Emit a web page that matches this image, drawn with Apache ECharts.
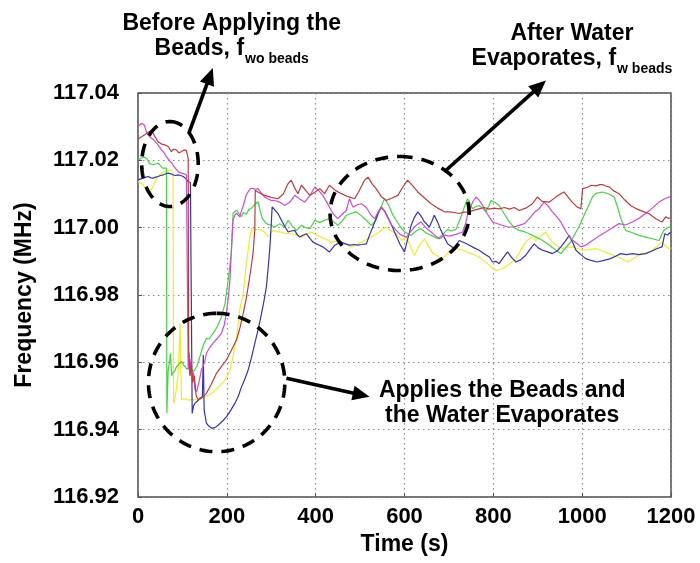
<!DOCTYPE html>
<html>
<head>
<meta charset="utf-8">
<script src="https://cdn.jsdelivr.net/npm/echarts@6/dist/echarts.min.js"></script>
<style>
  html, body { margin: 0; padding: 0; background: #ffffff; }
  #chart { width: 700px; height: 563px; }
</style>
</head>
<body>
<div id="chart"></div>
<script>
// Resonant frequency of five sensors over time: [time (s), frequency (MHz)]
const redTrace = [
  [0,117.0263],[8,117.0270],[15,117.0276],[24,117.0284],[31,117.0289],[38,117.0271],[45,117.0255],[52,117.0249],[60,117.0246],[68,117.0241],[75,117.0226],[80,117.0233],[86,117.0231],[92,117.0222],[98,117.0226],[104,117.0231],[109,117.0229],[113,117.0206],
  [114,116.9636],[117,116.9560],[120,116.9600],[123,116.9540],[127,116.9560],[131,116.9500],[136,116.9488],[144,116.9495],[154,116.9508],[165,116.9535],[177,116.9568],[188,116.9588],[199,116.9607],[210,116.9635],[222,116.9667],[230,116.9705],[237,116.9746],[243,116.9785],[248,116.9825],[254,116.9875],[259,116.9924],[263,116.9994],[264,117.0111],
  [270,117.0106],[278,117.0100],[285,117.0096],[300,117.0090],[315,117.0086],[327,117.0100],[338,117.0131],[345,117.0141],[352,117.0120],[360,117.0101],[368,117.0126],[378,117.0110],[387,117.0096],[398,117.0105],[409,117.0116],[420,117.0101],[431,117.0126],[445,117.0110],[458,117.0101],[473,117.0092],[488,117.0086],[500,117.0115],[510,117.0141],[518,117.0150],[527,117.0130],[536,117.0116],[548,117.0092],[559,117.0081],[572,117.0088],[585,117.0096],[596,117.0120],[607,117.0141],[618,117.0125],[630,117.0106],[645,117.0088],[660,117.0071],[675,117.0058],[690,117.0047],[701,117.0047],[712,117.0045],[723,117.0042],[735,117.0046],[746,117.0047],[757,117.0052],[768,117.0056],[780,117.0060],[790,117.0055],[802,117.0058],[813,117.0056],[825,117.0060],[836,117.0055],[847,117.0060],[858,117.0051],[873,117.0058],[888,117.0071],[899,117.0091],[910,117.0078],[926,117.0076],[940,117.0090],[951,117.0100],[959,117.0106],[967,117.0093],[978,117.0075],[989,117.0061],[997,117.0056],[1001,117.0116],[1012,117.0120],[1020,117.0126],[1031,117.0124],[1040,117.0128],[1046,117.0128],[1054,117.0123],[1061,117.0121],[1070,117.0110],[1083,117.0101],[1096,117.0082],[1109,117.0066],[1124,117.0055],[1139,117.0047],[1150,117.0042],[1165,117.0027],[1175,117.0020],[1180,117.0017],[1188,117.0032],[1195,117.0027],[1200,117.0030]
];

const magentaTrace = [
  [0,117.0300],[8,117.0310],[14,117.0305],[20,117.0281],[26,117.0270],[31,117.0265],[37,117.0258],[42,117.0251],[48,117.0240],[53,117.0231],[59,117.0222],[64,117.0211],[70,117.0200],[76,117.0192],[81,117.0182],[87,117.0172],[92,117.0165],[98,117.0162],[104,117.0160],[109,117.0157],[112,117.0152],
  [113,116.9578],[115,116.9630],[117,116.9560],[119,116.9610],[121,116.9548],[125,116.9570],[128,116.9520],[132,116.9513],[137,116.9540],[143,116.9578],[150,116.9600],[154,116.9627],[162,116.9645],[169,116.9657],[178,116.9670],[188,116.9687],[194,116.9710],[199,116.9746],[204,116.9800],[207,116.9845],[210,116.9924],[214,117.0023],[218,117.0037],[222,117.0043],[229,117.0032],[233,117.0050],[237,117.0065],[244,117.0098],[252,117.0115],[258,117.0117],[263,117.0114],[270,117.0116],[278,117.0102],[285,117.0091],[293,117.0085],[300,117.0081],[310,117.0080],[319,117.0076],[330,117.0066],[342,117.0076],[353,117.0096],[364,117.0085],[375,117.0076],[387,117.0095],[398,117.0121],[407,117.0110],[416,117.0096],[424,117.0078],[431,117.0061],[440,117.0040],[450,117.0027],[460,117.0040],[469,117.0051],[476,117.0086],[484,117.0061],[493,117.0068],[503,117.0071],[514,117.0060],[525,117.0037],[533,117.0027],[540,117.0045],[548,117.0061],[555,117.0048],[563,117.0027],[570,117.0010],[578,116.9997],[590,116.9980],[604,116.9972],[615,116.9990],[626,117.0007],[637,117.0017],[648,117.0000],[660,116.9987],[670,116.9975],[679,116.9967],[690,116.9978],[701,116.9975],[716,116.9980],[731,116.9987],[737,117.0010],[742,117.0037],[750,117.0065],[755,117.0080],[761,117.0091],[768,117.0082],[776,117.0066],[787,117.0040],[798,117.0017],[813,117.0010],[825,117.0005],[832,117.0002],[845,117.0002],[858,117.0007],[870,117.0012],[881,117.0027],[892,117.0045],[903,117.0056],[914,117.0076],[923,117.0065],[933,117.0047],[943,117.0032],[952,117.0017],[963,116.9990],[974,116.9967],[986,116.9955],[997,116.9943],[1008,116.9948],[1023,116.9962],[1038,116.9975],[1053,116.9987],[1068,117.0000],[1083,117.0012],[1098,117.0008],[1113,117.0017],[1128,117.0028],[1143,117.0042],[1158,117.0058],[1173,117.0076],[1185,117.0085],[1195,117.0091],[1200,117.0090]
];

const greenTrace = [
  [0,117.0201],[6,117.0205],[11,117.0211],[15,117.0210],[19,117.0206],[23,117.0198],[26,117.0191],[30,117.0188],[34,117.0187],[40,117.0190],[45,117.0192],[50,117.0185],[56,117.0177],[60,117.0179],[64,117.0177],
  [65,116.9449],[68,116.9578],[71,116.9600],[73,116.9627],[76,116.9560],[78,116.9568],[83,116.9575],[87,116.9588],[93,116.9595],[98,116.9603],[104,116.9590],[110,116.9580],[118,116.9585],[125,116.9572],[133,116.9590],[140,116.9620],[147,116.9651],[154,116.9671],[160,116.9670],[169,116.9686],[178,116.9705],[188,116.9735],[196,116.9775],[203,116.9844],[207,116.9890],[210,116.9924],[214,117.0042],[218,117.0045],[222,117.0052],[228,117.0040],[233,117.0032],[237,117.0045],[244,117.0040],[250,117.0055],[255,117.0057],[262,117.0068],[270,117.0077],[275,117.0050],[280,117.0027],[289,117.0012],[298,117.0008],[308,117.0002],[319,117.0012],[330,117.0002],[338,117.0022],[349,117.0002],[357,116.9992],[368,117.0007],[378,117.0000],[387,116.9997],[398,117.0022],[409,117.0015],[420,117.0022],[431,117.0027],[440,117.0018],[450,117.0007],[460,117.0020],[469,117.0037],[480,117.0042],[491,117.0047],[503,117.0035],[514,117.0022],[525,117.0007],[536,117.0022],[545,117.0055],[555,117.0086],[563,117.0070],[574,117.0037],[587,117.0010],[600,116.9987],[615,116.9977],[626,116.9990],[637,116.9997],[648,116.9985],[660,116.9977],[675,116.9967],[686,116.9980],[697,116.9995],[705,116.9990],[716,116.9995],[725,117.0025],[731,117.0047],[737,117.0070],[742,117.0086],[748,117.0070],[753,117.0056],[760,117.0062],[768,117.0066],[776,117.0058],[783,117.0047],[790,117.0065],[795,117.0081],[804,117.0075],[813,117.0066],[825,117.0040],[836,117.0017],[847,117.0000],[858,116.9992],[870,116.9988],[881,116.9982],[896,116.9972],[911,116.9962],[926,116.9948],[941,116.9933],[952,116.9923],[963,116.9940],[974,116.9957],[985,116.9985],[993,117.0002],[1000,117.0025],[1008,117.0047],[1016,117.0070],[1023,117.0091],[1031,117.0102],[1046,117.0106],[1060,117.0100],[1072,117.0091],[1080,117.0060],[1087,117.0027],[1098,116.9992],[1113,116.9985],[1128,116.9977],[1143,116.9972],[1158,116.9967],[1173,116.9962],[1184,116.9992],[1195,117.0002],[1200,117.0000]
];

const yellowTrace = [
  [0,117.0137],[6,117.0132],[12,117.0127],[18,117.0112],[23,117.0102],[28,117.0110],[34,117.0122],[38,117.0135],[42,117.0147],[48,117.0155],[53,117.0162],[58,117.0165],[64,117.0167],[68,117.0170],[72,117.0172],[76,117.0169],[79,117.0167],
  [80,116.9478],[83,116.9490],[87,116.9488],[90,116.9560],[92,116.9617],[95,116.9716],[96,116.9600],[98,116.9488],[104,116.9492],[113,116.9488],[124,116.9490],[136,116.9488],[151,116.9498],[166,116.9508],[181,116.9527],[196,116.9547],[207,116.9577],[214,116.9617],[222,116.9676],[229,116.9755],[237,116.9805],[244,116.9894],[252,116.9973],[256,116.9998],[266,116.9995],[278,116.9993],[286,116.9985],[293,116.9973],[304,116.9992],[312,116.9988],[323,116.9987],[330,116.9983],[345,116.9982],[357,116.9978],[368,116.9972],[380,116.9980],[390,116.9987],[401,116.9978],[413,116.9972],[424,116.9965],[435,116.9957],[446,116.9960],[458,116.9957],[469,116.9950],[480,116.9943],[492,116.9950],[503,116.9957],[514,116.9965],[525,116.9972],[537,116.9982],[548,116.9992],[559,117.0002],[570,116.9990],[581,116.9982],[593,116.9962],[604,116.9972],[613,116.9945],[622,116.9918],[634,116.9948],[645,116.9967],[654,116.9945],[664,116.9923],[675,116.9915],[686,116.9908],[701,116.9930],[716,116.9938],[731,116.9933],[746,116.9925],[761,116.9918],[776,116.9905],[791,116.9888],[806,116.9873],[821,116.9878],[836,116.9892],[851,116.9908],[862,116.9935],[873,116.9957],[885,116.9972],[896,116.9962],[907,116.9975],[918,116.9987],[926,116.9970],[933,116.9957],[945,116.9945],[956,116.9938],[967,116.9942],[978,116.9943],[990,116.9938],[1001,116.9933],[1016,116.9935],[1031,116.9938],[1046,116.9930],[1061,116.9923],[1075,116.9915],[1090,116.9908],[1102,116.9898],[1117,116.9910],[1132,116.9923],[1145,116.9925],[1158,116.9933],[1169,116.9945],[1180,116.9957],[1188,116.9945],[1195,116.9938],[1200,116.9940]
];

const blueTrace = [
  [0,117.0142],[6,117.0145],[12,117.0147],[18,117.0150],[23,117.0152],[29,117.0148],[34,117.0147],[40,117.0150],[45,117.0152],[51,117.0155],[57,117.0157],[63,117.0160],[68,117.0162],[74,117.0160],[79,117.0157],[85,117.0155],[90,117.0157],[96,117.0155],[102,117.0152],[108,117.0145],[113,117.0137],[118,117.0134],[121,117.0132],
  [122,116.9448],[125,116.9470],[128,116.9478],[134,116.9485],[139,116.9493],[145,116.9498],[147,116.9622],[149,116.9458],[154,116.9419],[160,116.9410],[166,116.9404],[173,116.9406],[181,116.9414],[190,116.9425],[199,116.9438],[209,116.9458],[218,116.9478],[226,116.9500],[233,116.9527],[241,116.9552],[248,116.9577],[256,116.9617],[263,116.9656],[271,116.9700],[278,116.9745],[284,116.9785],[289,116.9824],[293,116.9880],[297,116.9943],[300,117.0010],[302,117.0062],[304,117.0061],[310,117.0050],[316,117.0040],[323,117.0022],[330,117.0005],[338,116.9987],[345,116.9990],[353,116.9992],[358,116.9980],[364,116.9972],[372,116.9978],[379,116.9982],[387,116.9968],[394,116.9957],[405,116.9950],[416,116.9943],[424,116.9935],[431,116.9928],[437,116.9938],[443,116.9948],[450,116.9953],[458,116.9957],[467,116.9952],[476,116.9948],[486,116.9950],[495,116.9948],[505,116.9950],[514,116.9952],[522,116.9980],[533,117.0017],[540,117.0042],[548,117.0061],[555,117.0050],[566,117.0022],[574,116.9998],[581,116.9977],[590,116.9950],[600,116.9928],[607,116.9965],[615,117.0007],[622,117.0030],[630,117.0047],[637,117.0035],[645,117.0017],[656,117.0002],[662,117.0020],[667,117.0037],[675,117.0015],[682,116.9992],[690,116.9970],[697,116.9952],[705,116.9945],[712,116.9938],[723,116.9962],[735,116.9955],[746,116.9948],[757,116.9940],[768,116.9933],[780,116.9922],[791,116.9913],[798,116.9898],[806,116.9900],[813,116.9893],[822,116.9910],[832,116.9928],[841,116.9912],[851,116.9898],[862,116.9905],[873,116.9918],[882,116.9935],[892,116.9952],[901,116.9940],[911,116.9933],[922,116.9928],[933,116.9923],[943,116.9930],[952,116.9943],[962,116.9960],[971,116.9977],[979,116.9955],[986,116.9933],[997,116.9920],[1008,116.9908],[1020,116.9903],[1034,116.9898],[1049,116.9903],[1064,116.9908],[1075,116.9915],[1087,116.9923],[1100,116.9920],[1113,116.9923],[1128,116.9920],[1143,116.9923],[1156,116.9930],[1169,116.9938],[1180,116.9943],[1186,116.9982],[1192,116.9978],[1197,116.9985],[1200,116.9983]
];

// Axis ranges and tick steps
const timeRange = [0, 1200];
const timeStep = 200;
const freqRange = [116.92, 117.04];
const freqStep = 0.02;

// Callout shapes, given in data units [time, frequency]
const calloutEllipses = [
  { center: [72, 117.0189], radius: [63.6, 0.01262] },
  { center: [177, 116.9540], radius: [153.5, 0.02055] },
  { center: [589, 117.0042], radius: [156.6, 0.01693] }
];
const calloutArrows = [
  { from: [114.6, 117.0281], to: [168.5, 117.0474] },
  { from: [689.8, 117.0166], to: [918.4, 117.0437] },
  { from: [334.1, 116.9553], to: [521.3, 116.9498] }
];
const calloutTexts = [
  { at: [211, 117.0606], lines: [['Before Applying the'], ['Beads, f', 'wo beads']] },
  { at: [977, 117.0576], lines: [['After Water'], ['Evaporates, f', 'w beads']] },
  { at: [820, 116.9517], lines: [['Applies the Beads and'], ['the Water Evaporates']] }
];

const FONT_FAMILY = '"Liberation Sans", Arial, Helvetica, sans-serif';
const traceColors = {
  yellow: '#eded2a',
  green: '#3fd83f',
  blue: '#3434b4',
  magenta: '#d24ad2',
  red: '#c23a3a'
};

const chart = echarts.init(document.getElementById('chart'), null, { renderer: 'canvas' });

function traceSeries(name, data, color) {
  return {
    name: name,
    type: 'line',
    data: data,
    showSymbol: false,
    symbol: 'none',
    smooth: false,
    lineStyle: { color: color, width: 1.2 },
    emphasis: { disabled: true },
    z: 3
  };
}

const axisLabelStyle = {
  color: '#000',
  fontFamily: FONT_FAMILY,
  fontWeight: 'bold',
  fontSize: 22
};

chart.setOption({
  animation: false,
  backgroundColor: '#ffffff',
  grid: {
    left: 138, right: 29, top: 93, bottom: 66,
    show: true,
    borderColor: '#4a4a4a',
    borderWidth: 1.5,
    backgroundColor: 'transparent'
  },
  xAxis: {
    type: 'value',
    min: timeRange[0],
    max: timeRange[1],
    interval: timeStep,
    name: 'Time (s)',
    nameLocation: 'middle',
    nameGap: 33,
    nameTextStyle: { color: '#000', fontFamily: FONT_FAMILY, fontWeight: 'bold', fontSize: 23 },
    axisLine: { show: false },
    axisTick: { show: true, inside: true, length: 4, lineStyle: { color: '#555' } },
    axisLabel: Object.assign({
      margin: 9,
      formatter: function (v) { return String(Math.round(v)); }
    }, axisLabelStyle),
    splitLine: { show: true, lineStyle: { color: '#8a8a8a', type: [1.5, 3.5], width: 1.2 } }
  },
  yAxis: {
    type: 'value',
    min: freqRange[0],
    max: freqRange[1],
    interval: freqStep,
    name: 'Frequency (MHz)',
    nameLocation: 'middle',
    nameGap: 102,
    nameTextStyle: { color: '#000', fontFamily: FONT_FAMILY, fontWeight: 'bold', fontSize: 23 },
    axisLine: { show: false },
    axisTick: { show: true, inside: true, length: 4, lineStyle: { color: '#555' } },
    axisLabel: Object.assign({
      margin: 19,
      formatter: function (v) { return v.toFixed(2); }
    }, axisLabelStyle),
    splitLine: { show: true, lineStyle: { color: '#8a8a8a', type: [1.5, 3.5], width: 1.2 } }
  },
  series: [
    traceSeries('Sensor 4', yellowTrace, traceColors.yellow),
    traceSeries('Sensor 3', greenTrace, traceColors.green),
    traceSeries('Sensor 5', blueTrace, traceColors.blue),
    traceSeries('Sensor 2', magentaTrace, traceColors.magenta),
    traceSeries('Sensor 1', redTrace, traceColors.red)
  ]
});

// ---- callouts: dashed ellipses, arrows and captions ----
function toPx(pt) {
  return chart.convertToPixel({ gridIndex: 0 }, pt);
}

const measureCtx = document.createElement('canvas').getContext('2d');
function textWidth(str, font) {
  measureCtx.font = font;
  return measureCtx.measureText(str).width;
}

const elements = [];

calloutEllipses.forEach(function (e) {
  const c = toPx(e.center);
  const edge = toPx([e.center[0] + e.radius[0], e.center[1] + e.radius[1]]);
  const rx = Math.abs(edge[0] - c[0]);
  const ry = Math.abs(edge[1] - c[1]);
  const pts = [];
  const n = 160;
  for (let i = 0; i < n; i++) {
    const a = -Math.PI / 2 + (i / n) * Math.PI * 2;
    pts.push([c[0] + rx * Math.cos(a), c[1] + ry * Math.sin(a)]);
  }
  elements.push({
    type: 'polygon',
    z: 100,
    silent: true,
    shape: { points: pts },
    style: { fill: null, stroke: '#000', lineWidth: 3.6, lineDash: [13, 9] }
  });
});

calloutArrows.forEach(function (a) {
  const p0 = toPx(a.from);
  const p1 = toPx(a.to);
  const dx = p1[0] - p0[0], dy = p1[1] - p0[1];
  const len = Math.sqrt(dx * dx + dy * dy);
  const ux = dx / len, uy = dy / len;
  const headLen = 17, headHalf = 7.5;
  const base = [p1[0] - ux * headLen, p1[1] - uy * headLen];
  elements.push({
    type: 'line',
    z: 100,
    silent: true,
    shape: { x1: p0[0], y1: p0[1], x2: base[0] + ux * 2, y2: base[1] + uy * 2 },
    style: { stroke: '#000', lineWidth: 3.6 }
  });
  elements.push({
    type: 'polygon',
    z: 100,
    silent: true,
    shape: {
      points: [
        [p1[0], p1[1]],
        [base[0] - uy * headHalf, base[1] + ux * headHalf],
        [base[0] + uy * headHalf, base[1] - ux * headHalf]
      ]
    },
    style: { fill: '#000', stroke: null }
  });
});

const mainFont = 'bold 23px ' + FONT_FAMILY;
const subFont = 'bold 14px ' + FONT_FAMILY;
const lineGap = 25;

calloutTexts.forEach(function (t) {
  const anchor = toPx(t.at);
  t.lines.forEach(function (parts, i) {
    const y = anchor[1] + i * lineGap;
    const main = parts[0];
    const sub = parts[1];
    const w1 = textWidth(main, mainFont);
    const w2 = sub ? textWidth(sub, subFont) + 1 : 0;
    const x0 = anchor[0] - (w1 + w2) / 2;
    elements.push({
      type: 'text',
      z: 101,
      silent: true,
      style: {
        text: main, x: x0, y: y,
        font: mainFont, fill: '#000',
        align: 'left', verticalAlign: 'middle'
      }
    });
    if (sub) {
      elements.push({
        type: 'text',
        z: 101,
        silent: true,
        style: {
          text: sub, x: x0 + w1 + 1, y: y + 10,
          font: subFont, fill: '#000',
          align: 'left', verticalAlign: 'middle'
        }
      });
    }
  });
});

chart.setOption({ graphic: { elements: elements } });
</script>
</body>
</html>
